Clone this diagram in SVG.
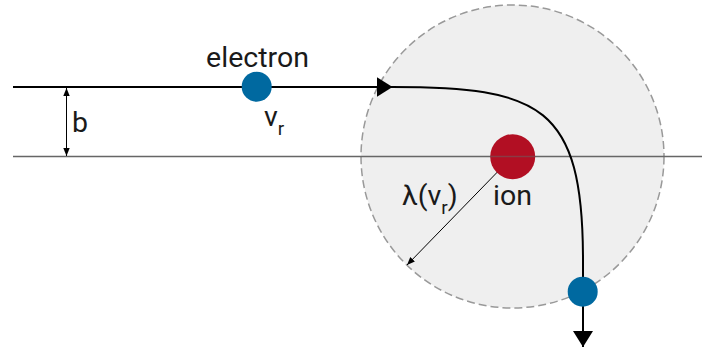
<svg xmlns="http://www.w3.org/2000/svg" width="702" height="349" viewBox="0 0 702 349">
<defs>
<style>
text{font-family:Roboto,"Liberation Sans",sans-serif;fill:#1a1a1a;font-size:28.5px}
.sub{font-size:19px}
.traj{fill:none;stroke:#000;stroke-width:2}
.thin{fill:none;stroke:#000;stroke-width:1}
.axis{stroke:#666;stroke-width:1.5}
.electron{fill:#0069a0}
.ion{fill:#b20f23}
</style>
<marker id="bigArrow" viewBox="0 0 16 20" refX="16" refY="10" markerWidth="16" markerHeight="20" markerUnits="userSpaceOnUse" orient="auto">
<path d="M0 0 L16 10 L0 20 Z" fill="#000"/>
</marker>
<marker id="small" viewBox="0 0 8 8" refX="8" refY="4" markerWidth="8" markerHeight="8" markerUnits="userSpaceOnUse" orient="auto-start-reverse">
<path d="M0 0.8 L8 4 L0 7.2 Z" fill="#000"/>
</marker>
</defs>
<g id="region">
<circle cx="512.5" cy="156.5" r="151.5" fill="#efefef" stroke="#999" stroke-width="1.5" stroke-dasharray="8 4"/>
</g>
<g id="connectors">
<line class="axis" x1="13" y1="156.5" x2="702" y2="156.5"/>
<path class="traj" d="M13 87 L392.5 87" marker-end="url(#bigArrow)"/>
<path class="traj" d="M392 87 C540 87 583 105 583 260 L583 347" marker-end="url(#bigArrow)"/>
<line class="thin" x1="66.5" y1="88" x2="66.5" y2="156" marker-start="url(#small)" marker-end="url(#small)"/>
<line class="thin" x1="512.5" y1="156.5" x2="407" y2="265" marker-start="url(#small)" marker-end="url(#small)"/>
</g>
<g id="ion">
<circle class="ion" cx="512.7" cy="156.7" r="22.5"/>
<line class="axis" x1="490" y1="156.5" x2="535" y2="156.5" opacity="0.5"/>
<text x="512.5" y="205" text-anchor="middle">ion</text>
</g>
<g id="electron1">
<circle class="electron" cx="256.7" cy="86.7" r="15"/>
<text x="257.5" y="67" text-anchor="middle">electron</text>
<text x="264" y="125.7">v<tspan class="sub" dy="9">r</tspan></text>
</g>
<g id="electron2">
<circle class="electron" cx="582.7" cy="291.7" r="15"/>
</g>
<g id="label-b">
<text x="72" y="132">b</text>
</g>
<g id="label-lambda">
<text x="402" y="205">λ(v<tspan class="sub" dy="9">r</tspan><tspan dy="-9">)</tspan></text>
</g>
</svg>
